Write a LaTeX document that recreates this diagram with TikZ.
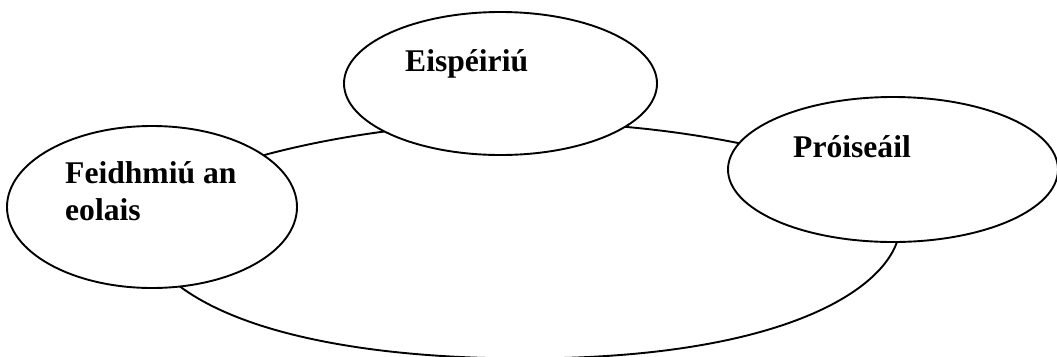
\documentclass[tikz,border=0pt]{standalone}
\usepackage{fontspec}
\setmainfont{Liberation Serif}
\usetikzlibrary{shapes.geometric}
\tikzset{
  bubble/.style={ellipse, draw=black, fill=white, line width=1.9bp, inner sep=0pt},
  lbl/.style={anchor=base west, inner sep=0pt, font=\fontsize{31.6bp}{37bp}\selectfont\bfseries, align=left},
  ring/.style={draw=black, line width=1.9bp}
}
\begin{document}
\begin{tikzpicture}[x=1bp,y=-1bp]
\useasboundingbox (0,0) rectangle (1057,356);
\clip (0,0) rectangle (1057,356);
\draw[ring] (525,358.5) .. controls (800,358.5) and (900,280) .. (900,225)
  .. controls (900,190) and (798,158) .. (738,143)
  .. controls (588,113) and (418,115) .. (268,154)
  .. controls (188,178) and (132,252) .. (182,288)
  .. controls (250,337) and (380,358.5) .. cycle;
\node[bubble, minimum width=313bp, minimum height=143bp] (top) at (500.5,83.5) {};
\node[bubble, minimum width=290bp, minimum height=162bp] (left) at (152,207) {};
\node[bubble, minimum width=330bp, minimum height=145bp] (right) at (893,169.5) {};
\node[lbl] (ttop) at (405,71) {Eispéiriú};
\node[lbl] (tleft) at (65,220) {Feidhmiú an\\eolais};
\node[lbl] (tright) at (793,157) {Próiseáil};
\end{tikzpicture}
\end{document}
